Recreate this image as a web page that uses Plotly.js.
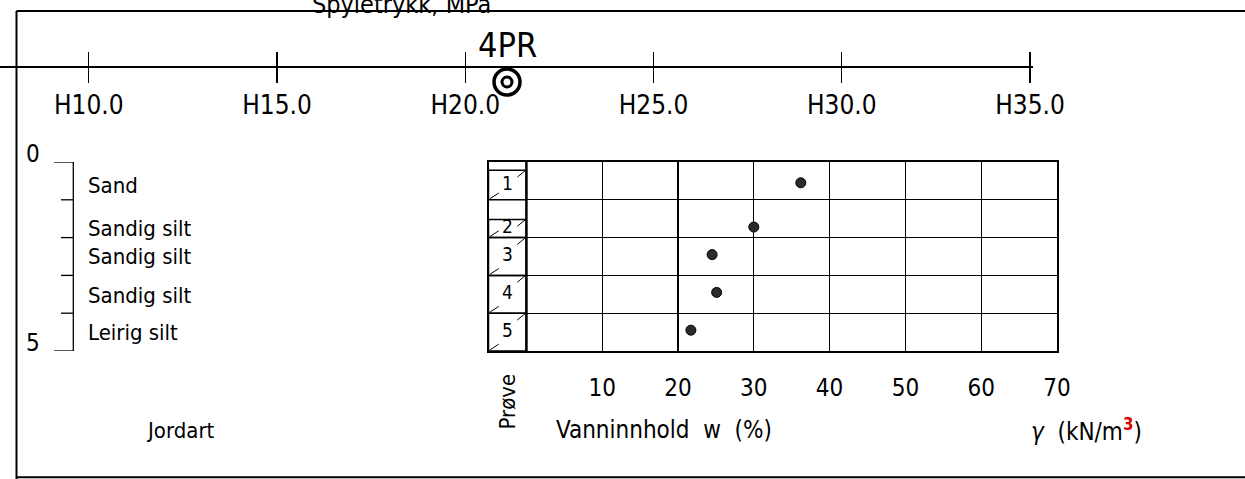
<!DOCTYPE html>
<html><head><meta charset="utf-8">
<script src="https://cdn.plot.ly/plotly-3.0.1.min.js"></script>
<style>html,body{margin:0;padding:0;background:#fff;}#chart{width:1245px;height:479px;}</style>
</head><body><div id="chart"></div>
<script>
// ---------------- data ----------------
const sampleIds = ['1', '2', '3', '4', '5'];
const sampleTop = [0.22, 1.52, 2, 3, 4];
const sampleBottom = [1, 2, 3, 4, 5];
const waterContent = [36.2, 30.0, 24.5, 25.1, 21.7];
const waterDepth = [0.55, 1.72, 2.45, 3.45, 4.45];
const layerNames = ['Sand', 'Sandig silt', 'Sandig silt', 'Sandig silt', 'Leirig silt'];
const layerTop = [0, 1, 2, 3, 4];
const layerBottom = [1, 2, 3, 4, 5];
const layerLabelDepth = [0.61, 1.75, 2.51, 3.52, 4.5];
const depthLabels = [0, 5];
const wTickVals = [10, 20, 30, 40, 50, 60, 70];
const wTickText = ['10', '20', '30', '40', '50', '60', '70'];
const pressureTickVals = [10, 15, 20, 25, 30, 35];
const pressureTickText = ['H10.0', 'H15.0', 'H20.0', 'H25.0', 'H30.0', 'H35.0'];
const boreholeName = '4PR';
const boreholePos = 21.11;

// ---------------- helpers (layout only) ----------------
const W = 1245, H = 479;
const fx = p => p / W;
const fy = p => 1 - p / H;
const FONT = 'Liberation Sans Narrow, DejaVu Sans Condensed, Arial Narrow, sans-serif';
const INK = '#000';

const traces = [
  { // water content points
    type: 'scatter', mode: 'markers', xaxis: 'x', yaxis: 'y',
    x: waterContent, y: waterDepth,
    marker: { size: 10, color: '#2b2b2b', line: { color: '#000', width: 1 } },
    hoverinfo: 'x+y'
  },
  { // sample numbers
    type: 'scatter', mode: 'text', xaxis: 'x', yaxis: 'y',
    x: sampleIds.map(() => -2.5),
    y: sampleTop.map((t, i) => (t + sampleBottom[i]) / 2),
    text: sampleIds, textposition: 'middle center',
    textfont: { family: FONT, size: 19, color: INK }, hoverinfo: 'skip'
  },
  { // borehole position (anchor for the symbol)
    type: 'scatter', mode: 'markers', xaxis: 'x2', yaxis: 'y2',
    x: [boreholePos], y: [-1], cliponaxis: false,
    marker: { size: 1, color: 'rgba(0,0,0,0)' }, hoverinfo: 'skip'
  }
];

const shapes = [];
// frame
shapes.push({ type: 'line', xref: 'paper', yref: 'paper', x0: fx(16.5), x1: 1.01, y0: fy(11), y1: fy(11), line: { color: INK, width: 2 } });
shapes.push({ type: 'line', xref: 'paper', yref: 'paper', x0: fx(16.5), x1: fx(16.5), y0: fy(11), y1: -0.01, line: { color: INK, width: 2 } });
shapes.push({ type: 'line', xref: 'paper', yref: 'paper', x0: fx(16.5), x1: 1.01, y0: fy(477.3), y1: fy(477.3), line: { color: INK, width: 2 } });
// borehole symbol (double circle, pixel sized, anchored to the borehole position)
[[13, 3.5], [5, 3]].forEach(([r, w]) => shapes.push({
  type: 'circle', xref: 'x2', yref: 'paper', xsizemode: 'pixel', ysizemode: 'pixel',
  xanchor: boreholePos, yanchor: fy(82), x0: -r, x1: r, y0: -r, y1: r,
  line: { color: INK, width: w }
}));
// sample boxes
sampleTop.forEach((t, i) => {
  const b = sampleBottom[i];
  shapes.push({ type: 'rect', xref: 'x', yref: 'y', x0: -5, x1: 0, y0: t, y1: b, line: { color: INK, width: 1.5 } });
  shapes.push({ type: 'line', xref: 'x', yref: 'y', x0: -4.8, x1: -3.65, y0: b - 0.03, y1: b - 0.18, line: { color: INK, width: 1 } });
  shapes.push({ type: 'line', xref: 'x', yref: 'y', x0: -1.2, x1: -0.1, y0: t + 0.18, y1: t, line: { color: INK, width: 1 } });
});
// thick prøve column divider
shapes.push({ type: 'line', xref: 'x', yref: 'y', x0: 0, x1: 0, y0: 0, y1: 5, line: { color: INK, width: 2.5 } });
// small tick above prøve column
shapes.push({ type: 'line', xref: 'x', yref: 'y', x0: -2.5, x1: -2.5, y0: 0, y1: -0.1, line: { color: INK, width: 1 } });
// soil layer bracket
shapes.push({ type: 'line', xref: 'paper', yref: 'y', x0: fx(73.3), x1: fx(73.3), y0: layerTop[0], y1: layerBottom[layerBottom.length - 1], line: { color: INK, width: 1.3 } });
const bounds = layerTop.concat([layerBottom[layerBottom.length - 1]]);
bounds.forEach((d, i) => {
  const outer = (i === 0 || i === bounds.length - 1);
  shapes.push({ type: 'line', xref: 'paper', yref: 'y', x0: fx(outer ? 54 : 61), x1: fx(73.3), y0: d, y1: d, line: { color: INK, width: 1.3 } });
});

const annotations = [];
const ann = (o) => Object.assign({ showarrow: false, xanchor: 'center', yanchor: 'middle', font: { family: FONT, size: 24, color: INK } }, o);
depthLabels.forEach(d => annotations.push(ann({ xref: 'paper', yref: 'y', x: fx(33), y: d, yshift: 8, text: String(d), font: { family: FONT, size: 24, color: INK } })));
layerNames.forEach((n, i) => annotations.push(ann({ xref: 'paper', yref: 'y', x: fx(86), y: layerLabelDepth[i], xanchor: 'left', text: n, font: { family: FONT, size: 22, color: INK } })));
annotations.push(ann({ xref: 'paper', yref: 'paper', x: fx(402), y: fy(4), text: 'Spyletrykk, MPa', font: { family: FONT, size: 25, color: INK } }));
annotations.push(ann({ xref: 'x2', yref: 'paper', x: boreholePos, y: fy(44.5), text: boreholeName, font: { family: FONT, size: 34, color: INK } }));
annotations.push(ann({ xref: 'paper', yref: 'paper', x: fx(506.5), y: fy(401), text: 'Prøve', textangle: -90, font: { family: FONT, size: 22, color: INK } }));
annotations.push(ann({ xref: 'paper', yref: 'paper', x: fx(664), y: fy(430), text: 'Vanninnhold  w  (%)' }));
annotations.push(ann({ xref: 'paper', yref: 'paper', x: fx(1086), y: fy(430), text: '<i>γ</i>  (kN/m<sup><span style="color:#e00000"><b>3</b></span></sup>)' }));
annotations.push(ann({ xref: 'paper', yref: 'paper', x: fx(180), y: fy(430), text: 'Jordart', font: { family: FONT, size: 22, color: INK } }));

const layout = {
  width: W, height: H, margin: { l: 0, r: 0, t: 0, b: 0 },
  paper_bgcolor: '#fff', plot_bgcolor: 'rgba(0,0,0,0)', showlegend: false,
  font: { family: FONT, color: INK },
  xaxis: {
    domain: [fx(488.5), fx(1057)], range: [-5, 70], anchor: 'y',
    tickmode: 'array', tickvals: wTickVals, ticktext: wTickText,
    showgrid: true, gridcolor: INK, gridwidth: 1.3, zeroline: false,
    minor: { tickmode: 'linear', tick0: 0, dtick: 10, showgrid: true, gridcolor: INK, gridwidth: 1.3, ticks: '' },
    showline: true, mirror: true, linecolor: INK, linewidth: 2,
    ticks: '', ticklabelstandoff: 14, tickfont: { family: FONT, size: 24, color: INK }, fixedrange: true
  },
  yaxis: {
    domain: [fy(351), fy(162)], range: [5, 0], anchor: 'x',
    tickmode: 'linear', tick0: 0, dtick: 1,
    showgrid: true, gridcolor: INK, gridwidth: 1.3, zeroline: false,
    showline: true, mirror: true, linecolor: INK, linewidth: 2,
    ticks: '', showticklabels: false, fixedrange: true
  },
  xaxis2: {
    domain: [0, fx(1033)], range: [7.643, 35.08], anchor: 'y2',
    tickmode: 'array', tickvals: pressureTickVals, ticktext: pressureTickText,
    showgrid: true, gridcolor: INK, gridwidth: 1.3, zeroline: false, showline: false,
    ticks: '', ticklabelstandoff: 4, tickfont: { family: FONT, size: 26, color: INK }, fixedrange: true
  },
  yaxis2: {
    domain: [fy(82.5), fy(52)], range: [-1, 1], anchor: 'x2',
    showgrid: false, zeroline: true, zerolinecolor: INK, zerolinewidth: 2,
    showticklabels: false, ticks: '', showline: false, fixedrange: true
  },
  shapes: shapes, annotations: annotations
};

Plotly.newPlot('chart', traces, layout, { displayModeBar: false, staticPlot: true });
</script>
</body></html>
